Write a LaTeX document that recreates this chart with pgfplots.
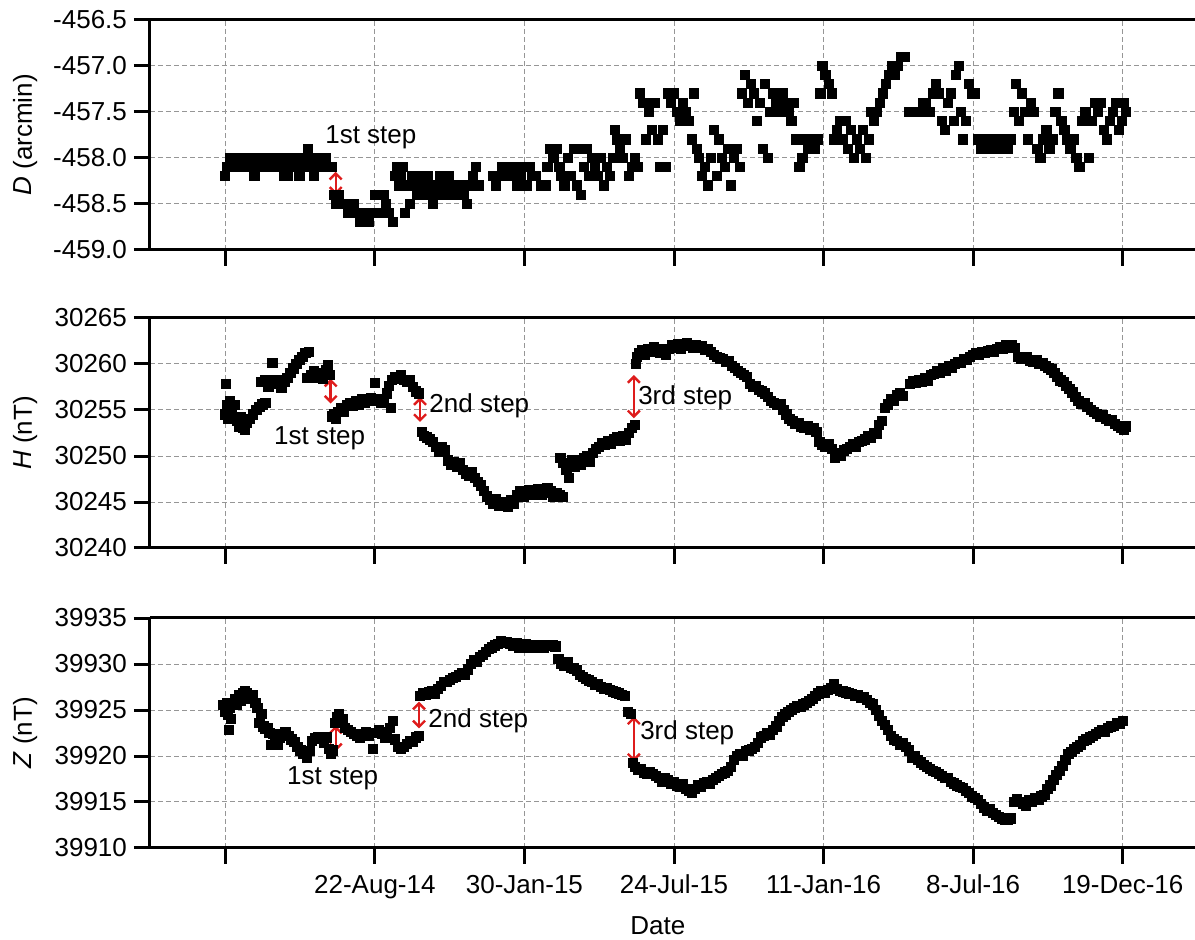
\documentclass[border=0pt]{standalone}
\usepackage{fontspec}
\setmainfont{Liberation Sans}
\usepackage{pgfplots}
\pgfplotsset{compat=1.18}
\usetikzlibrary{arrows.meta}
\definecolor{stepred}{RGB}{222,28,28}
\definecolor{gridgray}{RGB}{150,150,150}
\newcommand{\lbl}{\fontsize{13}{15}\selectfont}

\tikzset{steparrow/.style={stepred, line width=1.2pt, {Straight Barb[length=3pt,width=6pt]}-{Straight Barb[length=3pt,width=6pt]}}}

\pgfplotsset{
  panel/.style={
    scale only axis, width=522.5pt, height=115pt,
    xmin=-75, xmax=966,
    xtick={0,149,298,447,596,745,894},
    axis x line=box, axis y line=left,
    y axis line style={-},
    axis line style={line width=1.5pt},
    xtick pos=bottom, ytick pos=left,
    tick align=outside, major tick length=8pt,
    every tick/.style={black, line width=1.5pt},
    grid=major,
    grid style={gridgray, line width=0.5pt, dash pattern=on 2.5pt off 1.5pt},
    scaled y ticks=false,
    /pgf/number format/assume math mode=true,
    /pgf/number format/1000 sep={},
    tick label style={font=\lbl},
    label style={font=\lbl},
    ylabel style={at={(axis description cs:-0.1195,0.5)}, anchor=center},
  },
  pts/.style={only marks, mark=square*, mark size=2.3pt, mark options={fill=black, draw=black, line width=0pt}},
}

\begin{document}
\begin{tikzpicture}

% ---------- D ----------
\begin{axis}[panel, at={(75pt,345pt)}, anchor=south west,
  ymin=-459, ymax=-456.5, ytick={-459,-458.5,-458,-457.5,-457,-456.5},
  yticklabel style={/pgf/number format/fixed, /pgf/number format/fixed zerofill, /pgf/number format/precision=1},
  xticklabels={{},{},{},{},{},{},{}},
  ylabel={\textit{D} (arcmin)}]
\addplot[pts] table {
0 -458.2
2 -458.1
5 -458.0
8 -458.1
11 -458.0
14 -458.0
17 -458.1
20 -458.0
23 -458.1
25 -458.0
29 -458.2
32 -458.1
35 -458.0
38 -458.0
41 -458.1
44 -458.0
44 -458.1
47 -458.0
50 -458.1
53 -458.0
56 -458.0
56 -458.1
59 -458.2
62 -458.2
62 -458.0
65 -458.1
68 -458.0
68 -458.1
71 -458.0
71 -458.1
74 -458.2
77 -458.1
80 -458.0
80 -458.1
82 -457.9
85 -458.0
85 -458.1
88 -458.2
91 -458.0
91 -458.1
94 -458.1
97 -458.0
97 -458.1
100 -458.0
100 -458.1
103 -458.1
106 -458.1
108 -458.4
110 -458.5
113 -458.4
116 -458.5
119 -458.5
122 -458.6
125 -458.6
128 -458.5
131 -458.6
134 -458.7
137 -458.6
140 -458.7
143 -458.7
146 -458.6
149 -458.4
152 -458.6
155 -458.6
158 -458.4
160 -458.5
163 -458.6
167 -458.7
169 -458.2
171 -458.1
173 -458.3
175 -458.2
177 -458.1
179 -458.6
182 -458.3
184 -458.5
186 -458.2
189 -458.3
191 -458.4
193 -458.2
196 -458.3
199 -458.4
202 -458.2
205 -458.3
207 -458.5
209 -458.4
211 -458.3
214 -458.2
217 -458.4
220 -458.3
223 -458.2
226 -458.4
229 -458.3
232 -458.4
235 -458.3
238 -458.4
241 -458.5
244 -458.3
247 -458.2
250 -458.1
253 -458.3
267 -458.2
270 -458.3
273 -458.2
276 -458.1
279 -458.2
282 -458.1
285 -458.2
288 -458.1
291 -458.3
294 -458.2
297 -458.1
300 -458.3
303 -458.1
306 -458.2
309 -458.2
315 -458.3
319 -458.3
321 -458.1
324 -457.9
327 -458.0
330 -457.9
333 -458.1
335 -458.2
338 -458.3
341 -458.0
344 -458.2
347 -457.9
350 -458.3
352 -457.9
354 -458.4
357 -458.1
360 -457.9
362 -458.2
365 -458.0
368 -458.1
371 -458.2
374 -458.0
377 -458.3
380 -458.1
383 -458.2
386 -458.0
388 -457.7
390 -457.8
393 -457.9
396 -458.0
399 -457.8
402 -458.2
405 -458.1
408 -458.0
411 -458.1
413 -457.3
416 -457.4
419 -457.8
421 -457.4
422 -457.5
425 -457.7
428 -457.4
431 -457.8
433 -458.1
436 -457.7
439 -458.1
441 -457.3
444 -457.4
447 -457.3
450 -457.5
453 -457.6
456 -457.4
459 -457.5
462 -457.6
465 -457.8
467 -457.3
470 -457.9
472 -458.0
475 -458.2
478 -458.1
481 -458.3
484 -458.0
487 -457.7
490 -458.2
492 -457.8
495 -458.0
498 -458.1
501 -457.9
504 -458.3
507 -458.0
510 -457.9
513 -458.1
515 -457.3
518 -457.1
521 -457.4
524 -457.2
527 -457.3
530 -457.6
533 -457.4
536 -457.9
538 -457.2
541 -458.0
543 -457.5
546 -457.3
549 -457.4
552 -457.5
555 -457.3
558 -457.4
561 -457.5
564 -457.6
566 -457.4
569 -457.8
572 -458.1
575 -458.0
578 -457.8
581 -457.9
584 -457.8
587 -457.9
590 -457.8
593 -457.3
595 -457.0
598 -457.1
601 -457.2
604 -457.3
606 -457.8
609 -457.7
612 -457.6
615 -457.8
618 -457.6
620 -457.9
623 -457.7
626 -458.0
629 -457.8
632 -457.9
635 -457.7
638 -458.0
641 -457.8
643 -457.5
646 -457.6
649 -457.5
652 -457.4
655 -457.3
658 -457.2
661 -457.1
664 -457.0
667 -457.1
670 -457.0
673 -456.9
677 -456.9
681 -457.5
684 -457.5
688 -457.5
692 -457.5
695 -457.4
698 -457.4
702 -457.5
705 -457.3
708 -457.2
711 -457.3
714 -457.6
717 -457.7
720 -457.4
723 -457.3
726 -457.6
728 -457.1
731 -457.0
733 -457.5
735 -457.8
738 -457.6
741 -457.2
744 -457.3
747 -457.3
750 -457.8
753 -457.9
756 -457.8
759 -457.9
762 -457.8
765 -457.9
768 -457.8
771 -457.8
774 -457.9
777 -457.8
780 -457.9
783 -457.8
786 -457.5
788 -457.2
791 -457.6
794 -457.3
797 -457.5
800 -457.8
803 -457.4
806 -457.5
809 -457.9
812 -458.0
815 -457.8
818 -457.7
821 -457.9
824 -457.8
827 -457.5
830 -457.3
833 -457.6
836 -457.7
839 -457.8
842 -457.9
845 -457.8
848 -458.0
851 -458.1
854 -457.6
857 -457.5
860 -458.0
863 -457.6
866 -457.4
869 -457.5
872 -457.4
875 -457.7
878 -457.8
881 -457.6
884 -457.5
887 -457.4
890 -457.7
893 -457.6
895 -457.4
897 -457.5
};
\draw[steparrow] (axis cs:110,-458.15) -- (axis cs:110,-458.40);
\node[font=\lbl] at (axis cs:145,-457.77) {1st step};
\end{axis}

% ---------- H ----------
\begin{axis}[panel, at={(75pt,196pt)}, anchor=south west,
  ymin=30240, ymax=30265, ytick={30240,30245,...,30265},
  xticklabels={{},{},{},{},{},{},{}},
  ylabel={\textit{H} (nT)}]
\addplot[pts] table {
0 30254.5
1 30257.8
2 30255.5
3 30254.0
5 30256.0
7 30255.0
8 30254.2
10 30255.5
12 30253.8
14 30253.2
16 30254.2
18 30253.0
20 30252.8
22 30253.6
25 30254.0
28 30254.5
31 30255.0
34 30255.3
37 30255.6
40 30255.8
36 30258.0
40 30258.3
43 30257.5
46 30258.3
47 30260.1
50 30257.8
53 30258.2
56 30257.4
59 30258.0
62 30258.5
65 30259.0
68 30259.5
71 30260.0
74 30260.4
77 30260.8
80 30261.2
83 30261.3
81 30258.5
85 30258.8
88 30259.2
91 30258.5
94 30259.0
97 30258.4
100 30259.3
102 30259.9
104 30258.8
106 30254.3
108 30254.6
110 30254.0
112 30254.8
115 30255.2
118 30254.8
121 30255.5
124 30255.8
127 30255.4
130 30256.0
133 30255.6
136 30256.2
139 30255.8
142 30256.0
145 30256.3
148 30256.0
149 30257.9
152 30256.2
155 30255.8
158 30256.2
161 30256.8
163 30257.6
165 30255.2
166 30258.3
169 30258.6
172 30258.4
175 30258.8
178 30258.3
181 30258.0
184 30258.2
187 30257.5
190 30257.0
193 30256.8
196 30252.6
198 30252.2
201 30252.0
204 30251.8
207 30251.5
210 30251.0
213 30250.4
216 30251.0
219 30250.6
222 30249.5
225 30249.0
228 30249.3
231 30248.8
234 30249.2
237 30248.5
240 30248.0
243 30247.8
246 30248.3
249 30247.6
252 30247.2
255 30246.8
258 30246.2
261 30245.6
264 30245.2
267 30244.8
270 30245.3
273 30244.6
276 30245.0
279 30244.8
282 30244.5
285 30245.2
288 30244.8
291 30245.8
294 30246.2
297 30245.6
300 30246.0
303 30246.3
306 30245.8
309 30246.1
312 30246.4
315 30245.8
318 30246.0
321 30246.5
324 30246.2
327 30245.5
330 30246.0
333 30245.8
336 30245.5
334 30249.8
337 30249.2
340 30248.5
342 30247.6
345 30249.6
348 30248.8
351 30249.5
354 30249.0
357 30249.8
360 30250.0
363 30249.4
366 30250.3
369 30250.8
372 30251.0
375 30251.4
378 30251.2
381 30251.6
384 30251.3
387 30251.8
390 30252.0
393 30251.6
396 30252.2
399 30251.8
402 30252.5
405 30253.0
408 30253.4
409 30260.0
410 30260.8
412 30261.2
415 30261.5
418 30261.0
421 30261.6
424 30261.3
427 30261.8
430 30261.5
433 30261.2
436 30261.6
439 30261.0
442 30261.6
445 30262.0
448 30261.8
451 30262.2
454 30261.6
457 30262.0
460 30262.3
463 30262.1
466 30261.8
469 30262.0
472 30261.7
475 30261.9
478 30261.5
481 30261.6
484 30261.3
487 30261.0
490 30260.8
493 30260.6
496 30260.5
499 30260.2
502 30260.3
505 30259.8
508 30259.6
511 30259.2
514 30259.0
517 30258.8
520 30258.6
523 30257.8
526 30257.5
529 30257.6
532 30257.2
535 30257.0
538 30256.8
541 30256.4
544 30256.0
547 30255.8
550 30255.5
553 30255.6
556 30255.0
559 30254.5
562 30254.0
565 30253.8
568 30253.5
571 30253.6
574 30253.2
577 30253.0
580 30253.3
583 30252.8
586 30253.0
589 30252.6
592 30251.5
595 30251.2
598 30251.0
601 30251.3
604 30250.8
607 30249.8
610 30250.3
613 30250.0
616 30250.6
619 30250.8
622 30251.0
625 30251.3
628 30251.0
631 30251.5
634 30251.6
637 30251.8
640 30252.2
643 30252.0
646 30252.5
649 30252.4
651 30253.4
654 30253.8
657 30255.2
660 30255.6
663 30256.2
666 30256.0
669 30256.6
672 30256.8
675 30256.5
682 30257.8
685 30258.1
688 30257.9
691 30258.3
694 30258.0
697 30258.5
700 30258.2
703 30258.8
706 30258.9
709 30259.2
712 30259.0
715 30259.5
718 30259.3
721 30259.8
724 30259.6
727 30260.0
730 30260.2
733 30260.1
736 30260.5
739 30260.4
742 30260.8
745 30261.0
748 30261.2
751 30261.0
754 30261.3
757 30261.2
760 30261.4
763 30261.5
766 30261.3
769 30261.6
772 30261.8
775 30261.6
778 30262.0
781 30261.8
784 30262.0
787 30261.7
790 30260.8
793 30260.6
796 30260.5
799 30260.7
802 30260.3
805 30260.2
808 30260.4
811 30260.0
814 30260.1
817 30259.8
820 30259.6
823 30259.4
826 30259.0
829 30258.6
832 30258.2
835 30258.0
838 30257.6
841 30257.3
844 30256.9
847 30256.4
850 30256.0
853 30255.7
856 30255.8
859 30255.3
862 30255.0
865 30254.8
868 30254.6
871 30254.3
874 30254.4
877 30254.0
880 30253.8
883 30253.9
886 30253.5
889 30253.3
892 30253.1
895 30252.8
897 30253.2
};
\draw[steparrow] (axis cs:105,30258.4) -- (axis cs:105,30255.7);
\node[font=\lbl] at (axis cs:94,30251.9) {1st step};
\draw[steparrow] (axis cs:194,30256.4) -- (axis cs:194,30253.7);
\node[font=\lbl, anchor=west, inner sep=0pt] at (axis cs:203,30255.5) {2nd step};
\draw[steparrow] (axis cs:407,30258.8) -- (axis cs:407,30254.1);
\node[font=\lbl, anchor=west, inner sep=0pt] at (axis cs:411,30256.3) {3rd step};
\end{axis}

% ---------- Z ----------
\begin{axis}[panel, at={(75pt,46pt)}, anchor=south west,
  ymin=39910, ymax=39935, ytick={39910,39915,...,39935},
  xticklabels={{},22-Aug-14,30-Jan-15,24-Jul-15,11-Jan-16,8-Jul-16,19-Dec-16},
  xticklabel style={yshift=-2pt},
  xlabel={Date},
  xlabel style={at={(axis description cs:0.486,-0.337)}, anchor=center},
  ylabel={\textit{Z} (nT)}]
\addplot[pts] table {
-2 39925.5
0 39924.8
2 39925.8
3 39924.5
4 39922.8
5 39925.2
6 39924.0
8 39925.8
10 39926.2
12 39925.5
14 39926.6
16 39926.0
18 39926.8
20 39927.1
22 39926.8
24 39926.5
26 39926.2
28 39926.6
30 39925.8
32 39925.2
34 39923.6
36 39924.6
38 39923.2
40 39922.9
42 39923.0
44 39922.5
46 39921.2
48 39922.4
50 39921.6
52 39921.2
54 39922.0
57 39922.4
60 39922.6
63 39922.2
66 39921.8
69 39921.5
72 39921.0
75 39920.6
78 39920.2
81 39919.8
84 39920.5
86 39921.6
89 39921.9
92 39922.1
95 39922.0
98 39921.4
101 39922.0
103 39920.8
105 39920.2
107 39920.6
109 39923.6
111 39924.2
113 39924.5
115 39923.8
117 39924.0
119 39923.0
122 39922.8
125 39922.6
128 39922.4
131 39922.2
134 39922.0
137 39922.4
140 39922.6
143 39922.2
147 39920.8
150 39922.5
153 39922.8
156 39922.4
159 39922.0
161 39922.6
164 39923.0
167 39923.8
169 39921.8
172 39921.0
175 39920.8
178 39921.0
181 39921.3
184 39921.6
187 39921.5
190 39922.0
193 39922.2
194 39926.5
197 39926.8
200 39926.6
203 39926.9
206 39927.0
209 39926.8
212 39927.3
215 39927.6
218 39928.0
221 39928.0
224 39928.3
227 39928.5
230 39928.6
233 39928.8
236 39929.0
239 39928.8
242 39929.4
245 39930.0
248 39930.4
251 39930.2
254 39930.8
257 39931.0
260 39931.3
263 39931.6
266 39931.8
269 39932.0
272 39932.2
275 39932.5
278 39932.3
281 39932.4
284 39932.2
287 39932.0
290 39932.3
293 39931.8
296 39932.0
299 39932.2
302 39931.8
305 39932.0
308 39932.1
311 39931.8
314 39932.0
317 39931.7
320 39932.0
323 39932.1
326 39932.0
329 39931.9
332 39930.5
335 39930.0
338 39929.8
341 39930.2
344 39929.6
347 39929.5
350 39929.3
353 39928.8
356 39928.6
359 39928.4
362 39928.2
365 39928.0
368 39927.7
371 39927.8
374 39927.5
377 39927.3
380 39927.4
383 39927.2
386 39927.0
389 39926.9
392 39926.8
395 39926.6
398 39926.5
401 39924.8
404 39924.6
406 39919.2
408 39918.8
411 39918.5
414 39918.6
417 39918.2
420 39918.0
423 39918.3
426 39918.0
429 39917.8
432 39917.6
435 39917.2
438 39917.6
441 39917.4
444 39917.0
447 39917.2
450 39916.8
453 39916.6
456 39916.9
459 39916.4
462 39916.2
465 39916.0
468 39916.4
471 39916.8
474 39916.6
477 39917.0
480 39917.2
483 39917.0
486 39917.4
489 39917.6
492 39917.8
495 39918.0
498 39918.2
501 39918.4
504 39918.8
507 39919.6
510 39920.0
513 39920.2
516 39920.0
519 39920.5
522 39920.6
525 39920.8
528 39921.0
531 39921.4
534 39922.0
537 39922.2
540 39922.5
543 39922.3
546 39922.8
549 39923.2
552 39923.8
555 39924.2
558 39924.5
561 39924.8
564 39925.0
567 39925.2
570 39925.4
573 39925.3
576 39925.6
579 39925.8
582 39926.0
585 39926.2
588 39926.5
591 39926.8
594 39927.0
597 39926.9
600 39927.2
603 39927.4
606 39927.8
609 39927.3
612 39927.1
615 39927.0
618 39926.9
621 39926.8
624 39926.7
627 39926.5
630 39926.6
633 39926.3
636 39926.4
639 39926.1
642 39925.8
645 39925.6
648 39925.0
651 39924.4
654 39923.8
657 39923.4
660 39922.8
663 39922.2
666 39921.8
669 39921.6
672 39921.2
675 39921.4
678 39921.0
681 39920.6
684 39919.8
687 39920.0
690 39919.6
693 39919.3
696 39919.0
699 39918.8
702 39918.6
705 39918.4
708 39918.3
711 39918.0
714 39917.8
717 39917.6
720 39917.6
723 39917.2
726 39917.0
729 39916.8
732 39916.6
735 39916.5
738 39916.2
741 39916.0
744 39915.6
747 39915.4
750 39915.2
753 39914.8
756 39914.4
759 39914.0
762 39914.2
765 39913.8
768 39913.6
771 39913.4
774 39913.2
777 39913.0
780 39913.0
783 39913.2
786 39915.0
789 39915.3
792 39915.0
795 39914.8
798 39914.6
801 39915.2
804 39915.0
807 39915.4
810 39915.2
813 39915.6
816 39915.8
819 39916.4
822 39916.8
825 39917.4
828 39917.9
831 39918.4
834 39918.9
837 39919.6
840 39920.2
843 39920.4
846 39920.8
849 39921.0
852 39921.2
855 39921.6
858 39921.8
861 39922.0
864 39922.2
867 39922.4
870 39922.6
873 39922.8
876 39922.6
879 39923.0
882 39923.2
885 39923.3
888 39923.6
891 39923.5
894 39923.8
};
\draw[steparrow] (axis cs:110,39923.3) -- (axis cs:110,39920.5);
\node[font=\lbl] at (axis cs:107,39917.6) {1st step};
\draw[steparrow] (axis cs:193,39925.9) -- (axis cs:193,39923.0);
\node[font=\lbl, anchor=west, inner sep=0pt] at (axis cs:202,39923.8) {2nd step};
\draw[steparrow] (axis cs:407,39924.3) -- (axis cs:407,39919.4);
\node[font=\lbl, anchor=west, inner sep=0pt] at (axis cs:413,39922.5) {3rd step};
\end{axis}

\pgfresetboundingbox
\path (0,0) rectangle (597.5pt,470pt);
\end{tikzpicture}
\end{document}
